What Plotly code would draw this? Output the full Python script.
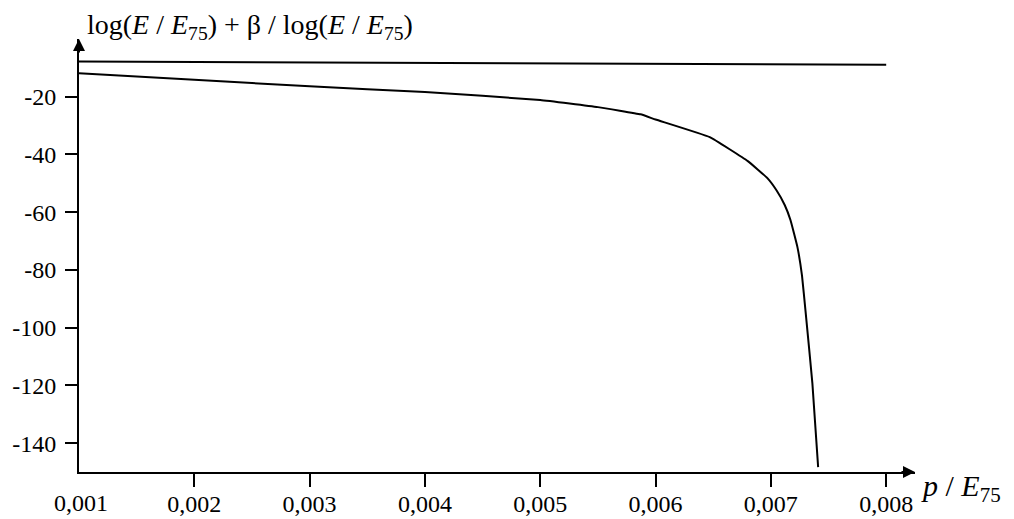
import plotly.graph_objects as go

# Data
p_upper = [0.001, 0.008]
v_upper = [-7.8, -8.9]

p_lower = [0.001, 0.002, 0.003, 0.004, 0.005, 0.0055, 0.00587, 0.006, 0.00647,
           0.0068, 0.00697, 0.00705, 0.00712, 0.00717, 0.00723, 0.00727, 0.0073,
           0.00736, 0.00741]
v_lower = [-11.9, -14.1, -16.4, -18.4, -21.1, -23.6, -26.1, -27.9, -34.0,
           -42.3, -48.2, -52.5, -57.5, -62.7, -72.0, -82.0, -94.0,
           -119.2, -148.3]

x_ticks = [0.002, 0.003, 0.004, 0.005, 0.006, 0.007, 0.008]
x_tick_text = ["0,002", "0,003", "0,004", "0,005", "0,006", "0,007", "0,008"]
y_ticks = [-20, -40, -60, -80, -100, -120, -140]
y_tick_text = ["-20", "-40", "-60", "-80", "-100", "-120", "-140"]

FONT = "Liberation Serif, Times New Roman, serif"

fig = go.Figure()
fig.add_trace(go.Scatter(x=p_upper, y=v_upper, mode="lines",
                         line=dict(color="black", width=2), showlegend=False))
fig.add_trace(go.Scatter(x=p_lower, y=v_lower, mode="lines",
                         line=dict(color="black", width=2, shape="spline", smoothing=0.3),
                         showlegend=False))

fig.update_layout(
    width=1014, height=519,
    margin=dict(l=79, r=99, t=39, b=47),
    paper_bgcolor="white", plot_bgcolor="white",
    font=dict(family=FONT, size=24, color="black"),
    xaxis=dict(range=[0.001, 0.00825], showgrid=False, zeroline=False,
               automargin=False,
               showline=True, linecolor="black", linewidth=2,
               ticks="outside", ticklen=13, tickwidth=1.5, tickcolor="black",
               tickvals=x_ticks, ticktext=x_tick_text, ticklabelstandoff=-4,
               tickfont=dict(family=FONT, size=24, color="black")),
    yaxis=dict(range=[-150, 0], showgrid=False, zeroline=False,
               automargin=False,
               showline=True, linecolor="black", linewidth=2,
               ticks="outside", ticklen=12, tickwidth=1.5, tickcolor="black",
               tickvals=y_ticks, ticktext=y_tick_text, ticklabelstandoff=4,
               tickfont=dict(family=FONT, size=24, color="black")),
)

# "0,001" label at the origin (no tick there in the reference)
fig.add_annotation(x=0.001, y=0, xref="x", yref="paper", xshift=2, yshift=-16,
                   text="0,001", showarrow=False, yanchor="top",
                   font=dict(family=FONT, size=24, color="black"))

# axis arrows
fig.add_annotation(x=0.001, y=1, xref="x", yref="paper", ax=0, ay=15,
                   showarrow=True, arrowhead=2, arrowsize=1.2, arrowwidth=2,
                   arrowcolor="black", text="")
fig.add_annotation(x=1, y=0, xref="paper", yref="paper", ax=-15, ay=0,
                   showarrow=True, arrowhead=2, arrowsize=1.2, arrowwidth=2,
                   arrowcolor="black", text="")

# axis titles
fig.add_annotation(x=0.001, y=1, xref="x", yref="paper", xshift=6, yshift=-7,
                   xanchor="left", yanchor="bottom", showarrow=False,
                   text="log(<i>E</i> / <i>E</i><sub>75</sub>) + β / log(<i>E</i> / <i>E</i><sub>75</sub>)",
                   font=dict(family=FONT, size=28, color="black"))
fig.add_annotation(x=1, y=0, xref="paper", yref="paper", xshift=4, yshift=-16,
                   xanchor="left", yanchor="middle", showarrow=False,
                   text="<i>p</i> / <i>E</i><sub>75</sub>",
                   font=dict(family=FONT, size=30, color="black"))

fig.write_html("out.html", config={"displayModeBar": False},
               post_script="document.body.style.margin='0';document.body.style.overflow='hidden';")
